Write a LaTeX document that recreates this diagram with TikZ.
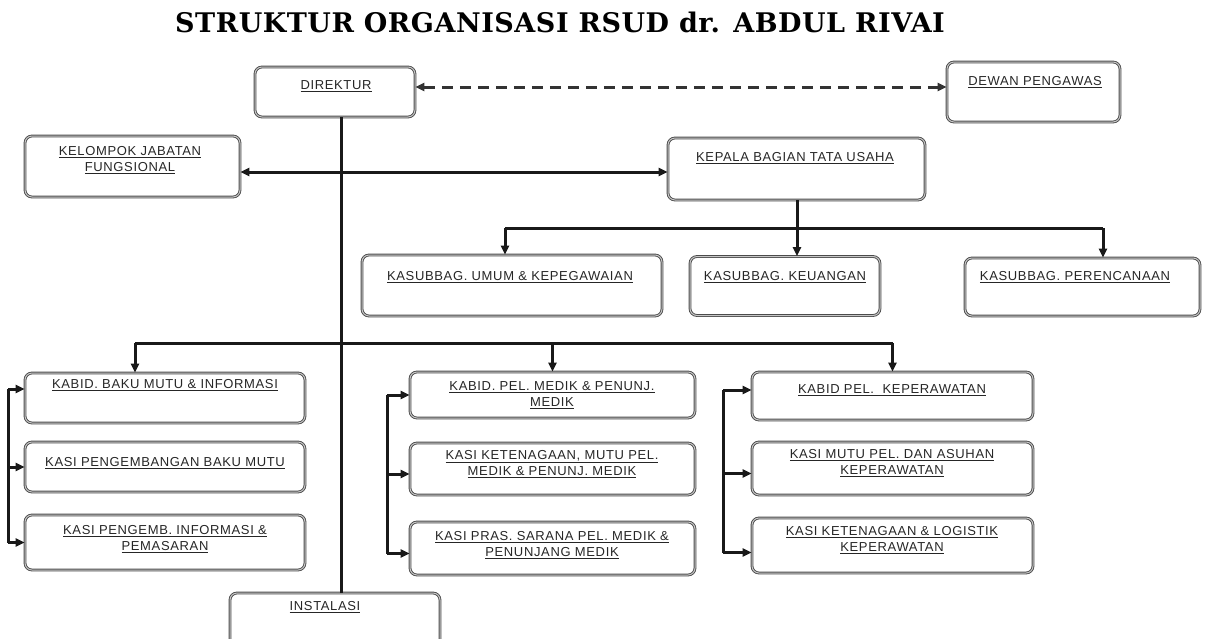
\documentclass[tikz,border=0pt]{standalone}
\usepackage{fontspec}
\usetikzlibrary{arrows.meta,calc}
\newfontfamily\lblfont[LetterSpace=5]{Liberation Sans}
\newfontfamily\ttlfont[LetterSpace=2]{DejaVu Serif}
\tikzset{
  box/.style={draw=black!70, line width=0.9pt, double=gray!45, double distance=1pt, rounded corners=7pt, inner sep=0pt},
  lbl/.style={font=\lblfont\fontsize{13}{16}\selectfont, text=black!85, align=center, inner sep=0pt},
  conn/.style={line width=3pt, black!90},
  arr/.style={conn, -{Triangle[length=9pt,width=8pt]}},
  dsh/.style={line width=3pt, black!80, dash pattern=on 11pt off 7pt, {Triangle[length=9pt,width=8pt]}-{Triangle[length=9pt,width=8pt]}}
}
\newcommand\ul[1]{\underline{#1}}
\begin{document}
\begin{tikzpicture}[x=1pt,y=-1pt]
\useasboundingbox (0,0) rectangle (1214,638);
% title
\node[font=\ttlfont\bfseries\fontsize{27}{30}\selectfont, inner sep=0pt] (title) at (560,22) {STRUKTUR ORGANISASI RSUD dr. ABDUL RIVAI};

% boxes
\node[box, minimum width=160pt, minimum height=50pt] (dir) at (335,92) {};
\node[lbl] (dirT) at (336,86) {\ul{DIREKTUR}};
\node[box, minimum width=173pt, minimum height=60pt] (dew) at (1033.5,92) {};
\node[lbl] (dewT) at (1035,82) {\ul{DEWAN PENGAWAS}};
\node[box, minimum width=215pt, minimum height=61pt] (kel) at (132.5,166.5) {};
\node[lbl] (kelT) at (130,160) {\ul{KELOMPOK JABATAN}\\\ul{FUNGSIONAL}};
\node[box, minimum width=257pt, minimum height=62pt] (kep) at (796.5,169) {};
\node[lbl] (kepT) at (795,158) {\ul{KEPALA BAGIAN TATA USAHA}};

\node[box, minimum width=300pt, minimum height=61pt] (ks1) at (512,285.5) {};
\node[lbl] (ks1T) at (510,277) {\ul{KASUBBAG. UMUM \& KEPEGAWAIAN}};
\node[box, minimum width=190pt, minimum height=59pt] (ks2) at (785,286) {};
\node[lbl] (ks2T) at (785,277) {\ul{KASUBBAG. KEUANGAN}};
\node[box, minimum width=235pt, minimum height=58pt] (ks3) at (1082.5,287) {};
\node[lbl] (ks3T) at (1075,277) {\ul{KASUBBAG. PERENCANAAN}};

\node[box, minimum width=280pt, minimum height=50pt] (L1) at (165,398) {};
\node[lbl] (L1T) at (165,385) {\ul{KABID. BAKU MUTU \& INFORMASI}};
\node[box, minimum width=280pt, minimum height=50pt] (L2) at (165,467) {};
\node[lbl] (L2T) at (165,463) {\ul{KASI PENGEMBANGAN BAKU MUTU}};
\node[box, minimum width=280pt, minimum height=55pt] (L3) at (165,542.5) {};
\node[lbl] (L3T) at (165,539.5) {\ul{KASI PENGEMB. INFORMASI \&}\\\ul{PEMASARAN}};

\node[box, minimum width=285pt, minimum height=46pt] (M1) at (552.5,395) {};
\node[lbl] (M1T) at (552,395) {\ul{KABID. PEL. MEDIK \& PENUNJ.}\\\ul{MEDIK}};
\node[box, minimum width=285pt, minimum height=52pt] (M2) at (552.5,469) {};
\node[lbl] (M2T) at (552,464) {\ul{KASI KETENAGAAN, MUTU PEL.}\\\ul{MEDIK \& PENUNJ. MEDIK}};
\node[box, minimum width=285pt, minimum height=53pt] (M3) at (552.5,548.5) {};
\node[lbl] (M3T) at (552,545) {\ul{KASI PRAS. SARANA PEL. MEDIK \&}\\\ul{PENUNJANG MEDIK}};

\node[box, minimum width=281pt, minimum height=48pt] (R1) at (892.5,396) {};
\node[lbl] (R1T) at (892,390) {\ul{KABID PEL. \ KEPERAWATAN}};
\node[box, minimum width=281pt, minimum height=53pt] (R2) at (892.5,468.5) {};
\node[lbl] (R2T) at (892,463) {\ul{KASI MUTU PEL. DAN ASUHAN}\\\ul{KEPERAWATAN}};
\node[box, minimum width=281pt, minimum height=55pt] (R3) at (892.5,545.5) {};
\node[lbl] (R3T) at (892,540) {\ul{KASI KETENAGAAN \& LOGISTIK}\\\ul{KEPERAWATAN}};

\node[box, minimum width=210pt, minimum height=58pt] (ins) at (335,622) {};
\node[lbl] (insT) at (325,607) {\ul{INSTALASI}};

% connectors
\draw[dsh] ([yshift=5pt]dir.east) -- ([yshift=5pt]dew.west);
\draw[conn] ([xshift=6pt]dir.south) -- ([xshift=6pt]ins.north);
\coordinate (j1) at (341,172);
\draw[arr] (j1) -- (kel.east |- j1);
\draw[arr] (j1) -- (kep.west |- j1);

\coordinate (kd) at (797,228);
\draw[conn] (kep.south -| kd) -- (kd);
\coordinate (ka) at (505,228);
\coordinate (kc) at (1103,228);
\draw[conn] (ka) -- (kc);
\draw[arr] (ka) -- (ks1.north -| ka);
\draw[arr] (kd) -- (ks2.north -| kd);
\draw[arr] (kc) -- (ks3.north -| kc);

\coordinate (ba) at (135,343);
\coordinate (bb) at (552.5,343);
\coordinate (bc) at (892.5,343);
\draw[conn] (ba) -- (bc);
\draw[arr] (ba) -- (L1.north -| ba);
\draw[arr] (bb) -- (M1.north);
\draw[arr] (bc) -- (R1.north);

% left bracket
\coordinate (lx) at (8,0);
\draw[conn] ([yshift=9pt]L1.west -| lx) -- (L3.west -| lx);
\draw[arr] ([yshift=9pt]L1.west -| lx) -- ([yshift=9pt]L1.west);
\draw[arr] (L2.west -| lx) -- (L2.west);
\draw[arr] (L3.west -| lx) -- (L3.west);
% middle bracket
\coordinate (mx) at (387,0);
\draw[conn] (M1.west -| mx) -- ([yshift=-5pt]M3.west -| mx);
\draw[arr] (M1.west -| mx) -- (M1.west);
\draw[arr] ([yshift=-5pt]M2.west -| mx) -- ([yshift=-5pt]M2.west);
\draw[arr] ([yshift=-5pt]M3.west -| mx) -- ([yshift=-5pt]M3.west);
% right bracket
\coordinate (rx) at (723,0);
\draw[conn] ([yshift=6pt]R1.west -| rx) -- ([yshift=-7pt]R3.west -| rx);
\draw[arr] ([yshift=6pt]R1.west -| rx) -- ([yshift=6pt]R1.west);
\draw[arr] ([yshift=-5pt]R2.west -| rx) -- ([yshift=-5pt]R2.west);
\draw[arr] ([yshift=-7pt]R3.west -| rx) -- ([yshift=-7pt]R3.west);
\end{tikzpicture}
\end{document}
